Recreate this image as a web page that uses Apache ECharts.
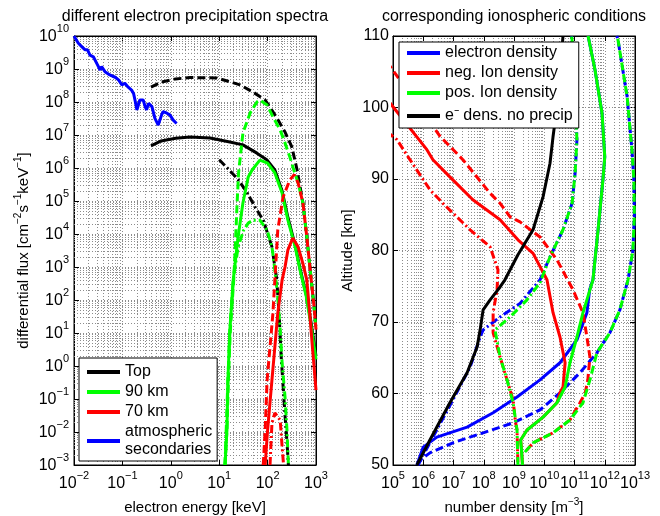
<!DOCTYPE html>
<html>
<head>
<meta charset="utf-8">
<script src="https://cdn.jsdelivr.net/npm/echarts@6/dist/echarts.min.js"></script>
<style>
  html, body { margin: 0; padding: 0; background: #fff; }
  #chart { width: 660px; height: 516px; }
</style>
</head>
<body>
<div id="chart"></div>
<script>
// left panel points: [log10(energy / keV), log10(flux)]
const secondaries = [[-2,10],[-1.91,9.78],[-1.84,9.68],[-1.77,9.58],[-1.72,9.58],[-1.67,9.42],[-1.60,9.37],[-1.53,9.17],[-1.46,8.97],[-1.43,9.07],[-1.36,8.92],[-1.26,8.82],[-1.15,8.75],[-1.08,8.67],[-1.01,8.52],[-0.95,8.57],[-0.88,8.45],[-0.81,8.36],[-0.77,8.26],[-0.74,8.06],[-0.70,7.76],[-0.67,7.91],[-0.64,8.06],[-0.57,8.06],[-0.53,7.86],[-0.50,7.76],[-0.46,7.96],[-0.39,7.86],[-0.33,7.51],[-0.26,7.30],[-0.19,7.61],[-0.16,7.71],[-0.08,7.66],[-0.02,7.61],[0.05,7.45],[0.12,7.35]]

const topSolid = [[-0.41,6.67],[-0.2,6.82],[0.1,6.9],[0.4,6.94],[0.81,6.91],[1.22,6.79],[1.49,6.70],[1.78,6.45],[1.99,6.24],[2.15,5.94],[2.30,5.3],[2.42,4.5],[2.57,3.65],[2.67,2.95],[2.8,2.15],[2.9,1.3],[3.0,0.3]]
const topDashed = [[-0.41,8.45],[-0.2,8.6],[0.1,8.7],[0.4,8.74],[0.95,8.73],[1.43,8.52],[1.70,8.30],[1.95,8.06],[2.19,7.52],[2.36,7.09],[2.50,6.64],[2.61,5.94],[2.73,4.94],[2.81,3.91],[2.88,2.91],[2.96,1.79],[3.0,1.1]]
const topDashDot = [[1.0,6.25],[1.2,5.95],[1.39,5.65],[1.57,5.27],[1.74,4.82],[1.91,4.42],[2.09,3.61],[2.19,2.61],[2.24,1.5],[2.28,0.3],[2.32,-0.6],[2.36,-1.5],[2.40,-2.3],[2.43,-3]]

const km90Solid = [[1.12,-3],[1.16,-1.94],[1.18,-0.42],[1.22,1.09],[1.29,2.61],[1.39,3.91],[1.49,4.94],[1.60,5.73],[1.68,5.94],[1.84,6.24],[2.0,6.15],[2.15,5.85],[2.30,5.24],[2.42,4.42],[2.57,3.61],[2.67,2.91],[2.8,2.1],[2.9,1.2],[3.0,0.2]]
const km90Dashed = [[1.12,-3],[1.16,-1.94],[1.19,-0.42],[1.23,1.09],[1.30,2.61],[1.33,3.52],[1.37,4.94],[1.40,5.85],[1.49,7.06],[1.64,7.67],[1.78,8.0],[1.84,8.06],[1.99,7.91],[2.11,7.55],[2.26,7.15],[2.36,6.76],[2.46,6.33],[2.55,5.9],[2.63,5.55],[2.73,4.94],[2.81,3.91],[2.88,2.91],[2.96,1.79],[3.0,1.1]]
const km90DashDot = [[1.12,-3],[1.18,-0.42],[1.22,1.09],[1.29,2.61],[1.39,3.6],[1.5,4.1],[1.60,4.33],[1.70,4.42],[1.84,4.42],[1.99,4.12],[2.09,3.61],[2.15,2.91],[2.21,2.09],[2.26,1.09],[2.30,0.09],[2.36,-0.94],[2.40,-1.94],[2.43,-3]]

const km70Solid = [[1.95,-3],[2.0,-1.94],[2.09,-0.42],[2.15,0.58],[2.21,1.6],[2.30,2.61],[2.36,3.0],[2.42,3.52],[2.52,3.88],[2.63,3.61],[2.73,3.1],[2.81,2.61],[2.87,1.6],[2.93,0.5],[3.0,-0.73]]
const km70Dashed = [[1.91,-3],[1.95,-1.94],[1.99,-0.42],[2.05,0.58],[2.11,1.6],[2.15,2.61],[2.21,4.12],[2.32,5.12],[2.46,5.64],[2.55,5.8],[2.63,5.55],[2.73,4.94],[2.81,3.91],[2.88,2.91],[2.96,1.79],[3.0,1.1]]
const km70DashDot = [[2.05,-3],[2.09,-1.73],[2.15,-1.42],[2.26,-1.64],[2.30,-2.45],[2.33,-3]]

// right panel points: [log10(density / m^-3), altitude km]
const neSolid = [[5.79,50],[6.0,52.5],[6.45,53.9],[7.45,55.3],[8.31,57.3],[9.1,59.5],[9.86,61.9],[10.52,64.3],[11.08,67.5],[11.41,71.3],[11.5,74.5],[11.61,75.9],[11.78,82.9],[11.94,89.9],[12.0,93.1],[11.91,99.2],[11.68,105.2],[11.45,110]]
const neDashed = [[5.82,50],[5.89,50.7],[6.22,51.7],[6.98,53.1],[7.98,54.5],[8.97,55.9],[9.86,57.7],[10.52,60.1],[11.18,62.9],[11.74,65.7],[12.17,68.5],[12.5,71.7],[12.77,75.9],[12.93,80],[12.98,85],[12.96,90],[12.9,94],[12.74,101.5],[12.44,109.4],[12.4,110]]
const neDashDot = [[5.83,50],[6.32,53.9],[6.98,59.1],[7.55,63.7],[7.88,67.9],[7.98,68.9],[8.54,70.7],[9.2,72.6],[9.86,75.9],[10.19,79.1],[10.62,82.9],[10.92,86.6],[11.02,90.8],[11.08,95.5],[11.02,101.5],[10.92,109.4],[10.9,110]]

const negSolid = [[4.8,101.2],[5.0,100.1],[6.12,94.1],[6.32,92.7],[6.88,90.3],[7.64,87.1],[8.54,84.3],[9.13,81.5],[9.63,79.6],[10.09,75.9],[10.29,71.3],[10.52,67.9],[10.69,64.3],[10.62,60.9],[10.52,60.1],[10.42,58.7],[9.96,56.7],[9.43,54.9],[9.22,53.5],[9.25,52],[9.28,50]]
const negDashed = [[4.8,106.4],[5.0,105.2],[6.55,96],[7.31,92.7],[8.21,88],[8.54,86.6],[8.87,84.7],[9.2,84.0],[9.63,82.6],[9.86,81.9],[10.42,78.7],[10.95,74.5],[11.28,71.3],[11.41,67.9],[11.51,65.1],[11.44,61.9],[11.35,60],[11.18,58.7],[10.85,56.3],[10.29,54.5],[9.63,53.1],[9.36,51.8]]
const negDashDot = [[4.8,96.6],[5.13,95.5],[5.56,92.7],[6.22,88.5],[6.65,86.6],[7.55,82.9],[8.21,80.5],[8.47,77.3],[8.44,74.5],[8.31,71.3],[8.31,68.5],[8.54,65.1],[8.77,61.9],[8.97,59.1],[9.05,56],[9.1,54.9],[9.13,50]]

const posSolid = [[9.28,50],[9.25,52],[9.22,53.5],[9.43,54.9],[9.96,56.7],[10.42,58.7],[10.69,60.9],[10.85,64.3],[11.08,67.9],[11.28,71.3],[11.51,74.5],[11.61,75.9],[11.78,82.9],[11.94,89.9],[12.0,93.1],[11.91,99.2],[11.68,105.2],[11.45,110]]
const posDashed = [[9.36,51.8],[9.63,53.1],[10.29,54.5],[10.85,56.3],[11.28,58.7],[11.51,61.9],[11.74,65.7],[12.17,68.5],[12.5,71.7],[12.77,75.9],[12.93,80],[12.98,85],[12.96,90],[12.9,94],[12.74,101.5],[12.44,109.4],[12.4,110]]
const posDashDot = [[9.13,50],[9.1,54.9],[8.97,58.7],[8.77,61.9],[8.54,65.1],[8.37,68.9],[8.87,70.7],[9.43,73.1],[9.86,75.5],[10.19,79.1],[10.62,82.9],[10.92,86.6],[11.02,90.8],[11.08,95.5],[11.02,101.5],[10.92,109.4],[10.9,110]]

const noPrecip = [[5.79,50],[6.22,53.5],[6.88,58.7],[7.45,62.9],[7.78,66.5],[7.88,68.9],[7.98,71.7],[8.21,73.1],[8.54,74.9],[8.7,75.9],[9.13,79.4],[9.63,82.9],[9.96,87.5],[10.19,92.2],[10.29,95.9],[10.45,101],[10.62,110]]

const SOLID = 'solid'
const DASH = [8, 4]
const DASHDOT = [8, 3, 2, 3]
const FONT = 'Liberation Sans, Arial, Helvetica, sans-serif'
const gridStyle = { color: '#8c8c8c', type: [1, 2], width: 1 }

const chart = echarts.init(document.getElementById('chart'))

function curve(name, data, color, dash, idx) {
  return {
    name: name,
    type: 'line',
    data: data,
    xAxisIndex: idx,
    yAxisIndex: idx,
    symbol: 'none',
    silent: true,
    clip: true,
    z: 3,
    itemStyle: { color: color },
    lineStyle: { color: color, width: 3, type: dash }
  }
}

// dotted minor grid lines at 2..9 inside every decade
function minorLines(key, lo, hi) {
  const out = []
  for (let d = lo; d < hi; d++) {
    for (let k = 2; k <= 9; k++) {
      out.push({ [key]: d + Math.log10(k) })
    }
  }
  return out
}

function gridSeries(idx, lines) {
  return {
    type: 'line',
    data: [],
    xAxisIndex: idx,
    yAxisIndex: idx,
    silent: true,
    z: 1,
    markLine: {
      silent: true,
      z: 1,
      symbol: ['none', 'none'],
      animation: false,
      label: { show: false },
      emphasis: { disabled: true },
      lineStyle: gridStyle,
      data: lines
    }
  }
}

const powRich = {
  b: { fontSize: 16, lineHeight: 18, verticalAlign: 'bottom', fontFamily: FONT, color: '#000' },
  e: { fontSize: 11, lineHeight: 12, verticalAlign: 'bottom', padding: [0, 0, 11, 0], fontFamily: FONT, color: '#000' }
}
const powFormat = v => '{b|10}{e|' + String(v).replace('-', '\u2212') + '}'
const powLabelX = { color: '#000', margin: 9, formatter: powFormat, rich: powRich }
const powLabelY = { color: '#000', margin: 5, formatter: powFormat, rich: powRich }
const supRich = { s: { fontSize: 10, lineHeight: 8, verticalAlign: 'top', fontFamily: FONT, color: '#000' } }

function axisBase(extra) {
  return Object.assign({
    type: 'value',
    nameLocation: 'middle',
    nameTextStyle: { fontSize: 15, color: '#000', fontFamily: FONT, lineHeight: 22, rich: supRich },
    axisLine: { onZero: false, lineStyle: { color: '#000', width: 1 } },
    axisTick: { inside: true, length: 5, lineStyle: { color: '#000' } },
    splitLine: { show: true, lineStyle: gridStyle }
  }, extra)
}

// box side axes: ticks only
function sideAxis(gridIndex, position, min, max, interval) {
  return {
    type: 'value', gridIndex: gridIndex, position: position, min: min, max: max, interval: interval,
    axisLine: { show: true, onZero: false, lineStyle: { color: '#000', width: 1 } },
    axisTick: { show: true, inside: true, length: 5, lineStyle: { color: '#000' } },
    axisLabel: { show: false },
    splitLine: { show: false }
  }
}

const option = {
  animation: false,
  backgroundColor: '#fff',
  textStyle: { fontFamily: FONT },
  graphic: [
    { type: 'text', x: 195, y: 17, style: { text: 'different electron precipitation spectra', font: '16px ' + FONT, fill: '#000', align: 'center', verticalAlign: 'middle' } },
    { type: 'text', x: 514, y: 17, style: { text: 'corresponding ionospheric conditions', font: '16px ' + FONT, fill: '#000', align: 'center', verticalAlign: 'middle' } }
  ],
  grid: [
    { left: 74, top: 36, width: 242, height: 429, outerBoundsMode: 'none', containLabel: false, show: true, borderColor: '#000', borderWidth: 1, backgroundColor: '#fff' },
    { left: 393, top: 36, width: 242, height: 429, outerBoundsMode: 'none', containLabel: false, show: true, borderColor: '#000', borderWidth: 1, backgroundColor: '#fff' }
  ],
  xAxis: [
    axisBase({ gridIndex: 0, min: -2, max: 3, interval: 1, name: 'electron energy [keV]', nameGap: 29, axisLabel: powLabelX }),
    axisBase({ gridIndex: 1, min: 5, max: 13, interval: 1, name: 'number density [m{s|\u22123}]', nameGap: 31, axisLabel: powLabelX }),
    sideAxis(0, 'top', -2, 3, 1),
    sideAxis(1, 'top', 5, 13, 1)
  ],
  yAxis: [
    axisBase({ gridIndex: 0, min: -3, max: 10, interval: 1, name: 'differential flux [cm{s|\u22122}s{s|\u22121}keV{s|\u22121}]', nameGap: 31, axisLabel: powLabelY }),
    axisBase({ gridIndex: 1, min: 50, max: 110, interval: 10, name: 'Altitude [km]', nameGap: 31,
      axisLabel: { color: '#000', fontSize: 16, margin: 4, fontFamily: FONT } }),
    sideAxis(0, 'right', -3, 10, 1),
    sideAxis(1, 'right', 50, 110, 10)
  ],
  legend: [
    {
      data: ['Top', '90 km', '70 km', 'atmospheric\nsecondaries'],
      orient: 'vertical',
      left: 79,
      top: 358,
      padding: [5, 5, 2, 8],
      itemGap: 2,
      itemWidth: 33,
      itemHeight: 4,
      icon: 'rect',
      selectedMode: false,
      backgroundColor: '#fff',
      borderColor: '#000',
      borderWidth: 1,
      borderRadius: 0,
      textStyle: { fontSize: 16, lineHeight: 18, color: '#000', fontFamily: FONT }
    },
    {
      data: ['electron density', 'neg. Ion density', 'pos. Ion density', 'e\u207B dens. no precip'],
      orient: 'vertical',
      left: 399,
      top: 42,
      padding: [2, 6, 0, 8],
      itemGap: 2,
      itemWidth: 33,
      itemHeight: 4,
      icon: 'rect',
      selectedMode: false,
      backgroundColor: '#fff',
      borderColor: '#000',
      borderWidth: 1,
      borderRadius: 0,
      formatter: name => name.indexOf('no precip') >= 0 ? '{t|' + name + '}' : name,
      textStyle: { fontSize: 16, lineHeight: 18, color: '#000', fontFamily: FONT,
        rich: { t: { fontSize: 16, lineHeight: 24, color: '#000', fontFamily: FONT } } }
    }
  ],
  series: [
    gridSeries(0, minorLines('xAxis', -2, 3).concat(minorLines('yAxis', -3, 10))),
    gridSeries(1, minorLines('xAxis', 5, 13)),

    curve('Top', topSolid, '#000000', SOLID, 0),
    curve('Top dashed', topDashed, '#000000', DASH, 0),
    curve('Top dash-dot', topDashDot, '#000000', DASHDOT, 0),
    curve('90 km', km90Solid, '#00ff00', SOLID, 0),
    curve('90 km dashed', km90Dashed, '#00ff00', DASH, 0),
    curve('90 km dash-dot', km90DashDot, '#00ff00', DASHDOT, 0),
    curve('70 km', km70Solid, '#ff0000', SOLID, 0),
    curve('70 km dashed', km70Dashed, '#ff0000', DASH, 0),
    curve('70 km dash-dot', km70DashDot, '#ff0000', DASHDOT, 0),
    curve('atmospheric\nsecondaries', secondaries, '#0000ff', SOLID, 0),

    curve('electron density', neSolid, '#0000ff', SOLID, 1),
    curve('ne dashed', neDashed, '#0000ff', DASH, 1),
    curve('ne dash-dot', neDashDot, '#0000ff', DASHDOT, 1),
    curve('neg. Ion density', negSolid, '#ff0000', SOLID, 1),
    curve('neg dashed', negDashed, '#ff0000', DASH, 1),
    curve('neg dash-dot', negDashDot, '#ff0000', DASHDOT, 1),
    curve('pos. Ion density', posSolid, '#00ff00', SOLID, 1),
    curve('pos dashed', posDashed, '#00ff00', DASH, 1),
    curve('pos dash-dot', posDashDot, '#00ff00', DASHDOT, 1),
    curve('e\u207B dens. no precip', noPrecip, '#000000', SOLID, 1)
  ]
}

chart.setOption(option)
</script>
</body>
</html>
